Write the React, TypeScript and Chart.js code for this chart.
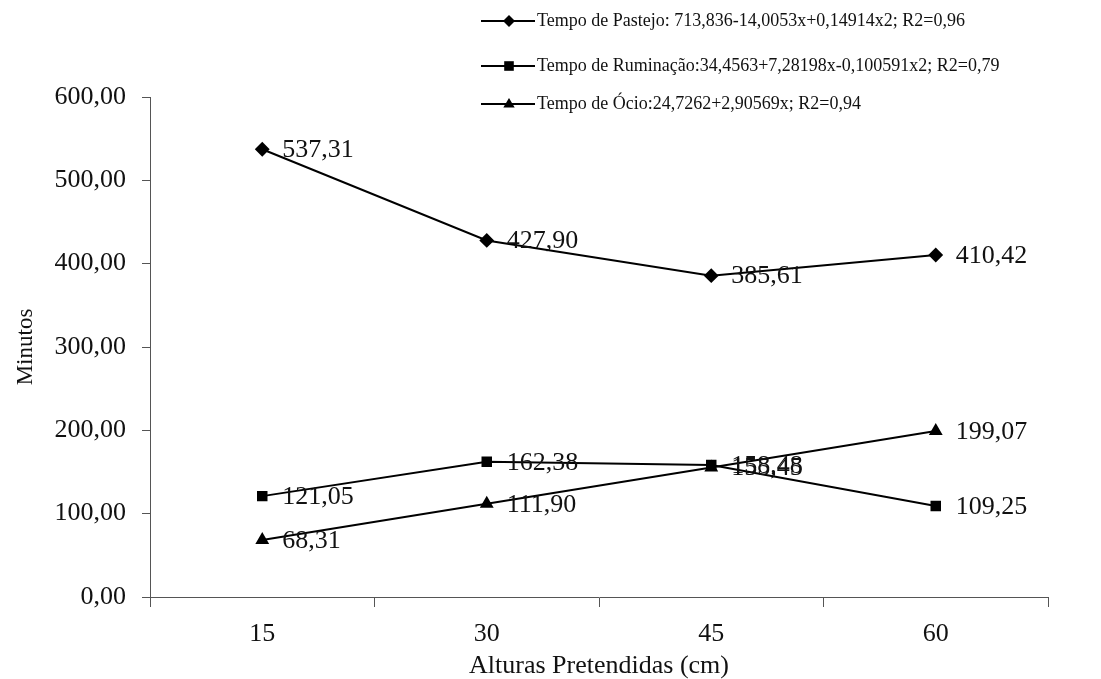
import React, { useEffect, useRef } from "react";
import { Chart, registerables } from "chart.js";

Chart.register(...registerables);

const categories = ["15", "30", "45", "60"];
const pastejo = [537.31, 427.9, 385.61, 410.42];
const ruminacao = [121.05, 162.38, 158.48, 109.25];
const ocio = [68.31, 111.9, 155.45, 199.07];
const seriesNames = [
  "Tempo de Pastejo: 713,836-14,0053x+0,14914x2; R2=0,96",
  "Tempo de Ruminação:34,4563+7,28198x-0,100591x2; R2=0,79",
  "Tempo de Ócio:24,7262+2,90569x; R2=0,94",
];
const pointStyles = ["rectRot", "rect", "triangle"] as const;
const yTitle = "Minutos";
const xTitle = "Alturas Pretendidas (cm)";

const SERIF = "'Liberation Serif', 'DejaVu Serif', serif";
const AXIS = "#555555";
const TEXT = "#111111";

const fmt = (v: number) => v.toFixed(2).replace(".", ",");

function drawMarker(ctx: CanvasRenderingContext2D, style: string, x: number, y: number, r: number) {
  ctx.beginPath();
  if (style === "rectRot") {
    ctx.moveTo(x, y - r);
    ctx.lineTo(x + r, y);
    ctx.lineTo(x, y + r);
    ctx.lineTo(x - r, y);
  } else if (style === "rect") {
    const s = r * 0.8;
    ctx.rect(x - s, y - s, 2 * s, 2 * s);
  } else {
    ctx.moveTo(x, y - r);
    ctx.lineTo(x + r * 0.95, y + r * 0.6);
    ctx.lineTo(x - r * 0.95, y + r * 0.6);
  }
  ctx.closePath();
  ctx.fill();
}

const dataLabelPlugin = {
  id: "dataLabels",
  afterDatasetsDraw(chart: any) {
    const ctx = chart.ctx;
    ctx.save();
    ctx.font = `26px ${SERIF}`;
    ctx.fillStyle = TEXT;
    ctx.textAlign = "left";
    ctx.textBaseline = "middle";
    chart.data.datasets.forEach((ds: any, i: number) => {
      const meta = chart.getDatasetMeta(i);
      meta.data.forEach((pt: any, j: number) => {
        ctx.fillText(fmt(ds.data[j]), pt.x + 20, pt.y + 1);
      });
    });
    ctx.restore();
  },
};

const legendPlugin = {
  id: "customLegend",
  afterDraw(chart: any) {
    const ctx = chart.ctx;
    const rows = [21, 66, 104];
    ctx.save();
    chart.data.datasets.forEach((ds: any, i: number) => {
      const y = rows[i];
      ctx.strokeStyle = "#000";
      ctx.lineWidth = 2;
      ctx.beginPath();
      ctx.moveTo(481, y);
      ctx.lineTo(535, y);
      ctx.stroke();
      ctx.fillStyle = "#000";
      drawMarker(ctx, ds.pointStyle, 509, y, 6);
      ctx.font = `18px ${SERIF}`;
      ctx.fillStyle = TEXT;
      ctx.textAlign = "left";
      ctx.textBaseline = "middle";
      ctx.fillText(ds.label, 537, y);
    });
    ctx.restore();
  },
};

export default function App() {
  const ref = useRef<HTMLCanvasElement>(null);
  useEffect(() => {
    if (!ref.current) return;
    const mk = (label: string, data: number[], ps: string) => ({
      label,
      data,
      borderColor: "#000",
      backgroundColor: "#000",
      borderWidth: 2,
      pointStyle: ps,
      pointRadius: 6,
      pointBackgroundColor: "#000",
      pointBorderColor: "#000",
      tension: 0,
    });
    const chart = new Chart(ref.current, {
      type: "line",
      data: {
        labels: categories,
        datasets: [
          mk(seriesNames[0], pastejo, pointStyles[0]),
          mk(seriesNames[1], ruminacao, pointStyles[1]),
          mk(seriesNames[2], ocio, pointStyles[2]),
        ] as any,
      },
      options: {
        animation: false,
        responsive: false,
        devicePixelRatio: 1,
        layout: { padding: { top: 97, right: 53, bottom: 0, left: 0 } },
        plugins: { legend: { display: false }, tooltip: { enabled: false } },
        scales: {
          x: {
            type: "category",
            offset: true,
            grid: {
              offset: true,
              drawOnChartArea: false,
              drawTicks: true,
              tickLength: 10,
              color: AXIS,
            },
            border: { display: true, color: AXIS, width: 1 },
            ticks: { color: TEXT, font: { family: SERIF, size: 26 }, padding: 12 },
            title: {
              display: true,
              text: xTitle,
              color: TEXT,
              font: { family: SERIF, size: 26 },
              padding: { top: 0, bottom: -3 },
            },
            afterFit: (s: any) => {
              s.height = 82;
            },
          },
          y: {
            min: 0,
            max: 600,
            ticks: {
              stepSize: 100,
              color: TEXT,
              font: { family: SERIF, size: 26 },
              padding: 16,
              callback: (v: any) => fmt(Number(v)),
            },
            grid: {
              drawOnChartArea: false,
              drawTicks: true,
              tickLength: 8,
              color: AXIS,
            },
            border: { display: true, color: AXIS, width: 1 },
            title: {
              display: true,
              text: yTitle,
              color: TEXT,
              font: { family: SERIF, size: 23 },
              padding: { top: 12, bottom: 0 },
            },
            afterFit: (s: any) => {
              s.width = 150;
            },
          },
        },
      } as any,
      plugins: [dataLabelPlugin, legendPlugin],
    });
    return () => chart.destroy();
  }, []);
  return (
    <div style={{ position: "fixed", left: 0, top: 0, width: 1101, height: 679, background: "#fff" }}>
      <canvas ref={ref} width={1101} height={679} style={{ width: 1101, height: 679 }} />
    </div>
  );
}
